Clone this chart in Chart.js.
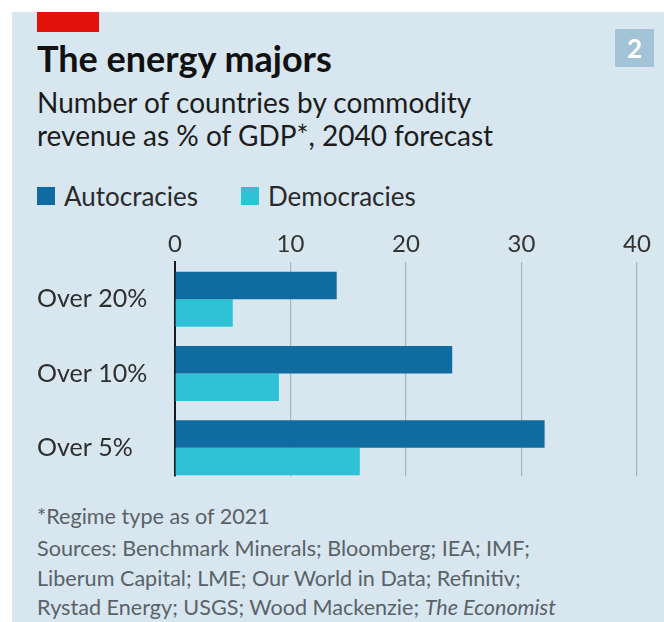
<!DOCTYPE html>
<html>
<head>
<meta charset="utf-8">
<script src="https://cdn.jsdelivr.net/npm/chart.js@4.4.1/dist/chart.umd.min.js"></script>
<style>
  html, body { margin: 0; padding: 0; width: 664px; height: 622px; overflow: hidden; background: #ffffff; font-family: Lato, "Open Sans", sans-serif; }
  #panel { position: absolute; left: 12px; top: 12px; width: 652px; height: 610px; background: #d7e6ef; }
  #flag { position: absolute; left: 37px; top: 12px; width: 62px; height: 20px; background: #e3120b; }
  #badge { position: absolute; left: 615px; top: 29px; width: 39px; height: 38px; background: #a3c3d6; color: #ffffff; font-weight: 700; font-size: 26px; line-height: 38px; text-align: center; }
  .txt { position: absolute; left: 37px; white-space: nowrap; }
  #title { top: 38px; font-size: 36px; line-height: 40px; font-weight: 700; color: #111111; }
  #sub1 { top: 86px; font-size: 28px; line-height: 32px; color: #1c1c1c; }
  #sub2 { top: 119px; font-size: 28px; line-height: 32px; color: #1c1c1c; }
  #legend { position: absolute; left: 37px; top: 181px; height: 30px; display: flex; align-items: center; font-size: 26px; color: #2a2a2a; }
  .key { display: flex; align-items: center; }
  .sw { width: 18px; height: 18px; margin-right: 9px; }
  #chartBox { position: absolute; left: 12px; top: 225px; width: 650px; height: 278px; }
  .foot { position: absolute; left: 37px; white-space: nowrap; font-size: 21.6px; line-height: 26px; color: #5a6268; }
</style>
</head>
<body>
<div id="panel"></div>
<div id="flag"></div>
<div id="badge">2</div>
<div id="title" class="txt">The energy majors</div>
<div id="sub1" class="txt">Number of countries by commodity</div>
<div id="sub2" class="txt">revenue as % of GDP*, 2040 forecast</div>
<div id="legend"></div>
<div class="foot" style="top:503px">*Regime type as of 2021</div>
<div class="foot" style="top:535px">Sources: Benchmark Minerals; Bloomberg; IEA; IMF;</div>
<div class="foot" style="top:565px">Liberum Capital; LME; Our World in Data; Refinitiv;</div>
<div class="foot" style="top:594px">Rystad Energy; USGS; Wood Mackenzie; <i>The Economist</i></div>
<div id="chartBox"><canvas id="chart" width="650" height="278"></canvas></div>
<script>
// Number of countries per revenue threshold, 2040 forecast
const categories = ['Over 20%', 'Over 10%', 'Over 5%'];
const autocracies = [14, 24, 32];
const democracies = [5, 9, 16];
const seriesNames = ['Autocracies', 'Democracies'];
const xTickValues = [0, 10, 20, 30, 40];

const colours = ['#106ba0', '#2ec2d6'];
const panelColour = '#d7e6ef';
const fontFamily = 'Lato, "Open Sans", sans-serif';

// Legend keys
const legend = document.getElementById('legend');
seriesNames.forEach((name, i) => {
  const key = document.createElement('div');
  key.className = 'key';
  key.style.marginRight = i === 0 ? '43px' : '0';
  const sw = document.createElement('span');
  sw.className = 'sw';
  sw.style.background = colours[i];
  const label = document.createElement('span');
  label.textContent = name;
  key.appendChild(sw);
  key.appendChild(label);
  legend.appendChild(key);
});

// Stop the grid and the zero line at the foot of the lowest bar
const trimGrid = {
  id: 'trimGrid',
  beforeDatasetsDraw(chart) {
    const metas = chart.getSortedVisibleDatasetMetas();
    let lowest = -Infinity;
    metas.forEach(m => m.data.forEach(el => {
      const b = el.y + el.height / 2;
      if (b > lowest) lowest = b;
    }));
    const area = chart.chartArea;
    const ctx = chart.ctx;
    ctx.save();
    ctx.fillStyle = panelColour;
    ctx.fillRect(area.left - 3, lowest + 1, area.right - area.left + 6, area.bottom - lowest + 2);
    ctx.restore();
  }
};

new Chart(document.getElementById('chart'), {
  type: 'bar',
  data: {
    labels: categories,
    datasets: [
      { label: seriesNames[0], data: autocracies, backgroundColor: colours[0] },
      { label: seriesNames[1], data: democracies, backgroundColor: colours[1] }
    ]
  },
  options: {
    indexAxis: 'y',
    responsive: false,
    animation: false,
    devicePixelRatio: 1,
    layout: { padding: { left: 25, right: 25, top: 0, bottom: 0 } },
    datasets: { bar: { categoryPercentage: 0.74, barPercentage: 1.0, borderWidth: 0 } },
    plugins: { legend: { display: false }, tooltip: { enabled: false } },
    scales: {
      x: {
        position: 'top',
        min: xTickValues[0],
        max: xTickValues[xTickValues.length - 1],
        afterBuildTicks: (scale) => { scale.ticks = xTickValues.map(v => ({ value: v })); },
        ticks: { color: '#333333', font: { family: fontFamily, size: 24 }, padding: 3 },
        grid: { color: '#a8b5be', lineWidth: 1.2, drawTicks: false },
        border: { display: false },
        afterFit: (scale) => { scale.height = 37; }
      },
      y: {
        ticks: { crossAlign: 'far', color: '#2e2e2e', font: { family: fontFamily, size: 25 } },
        grid: { display: false },
        border: { color: '#1a1a1a', width: 2 },
        afterFit: (scale) => { scale.width = 138; }
      }
    }
  },
  plugins: [trimGrid]
});
</script>
</body>
</html>
